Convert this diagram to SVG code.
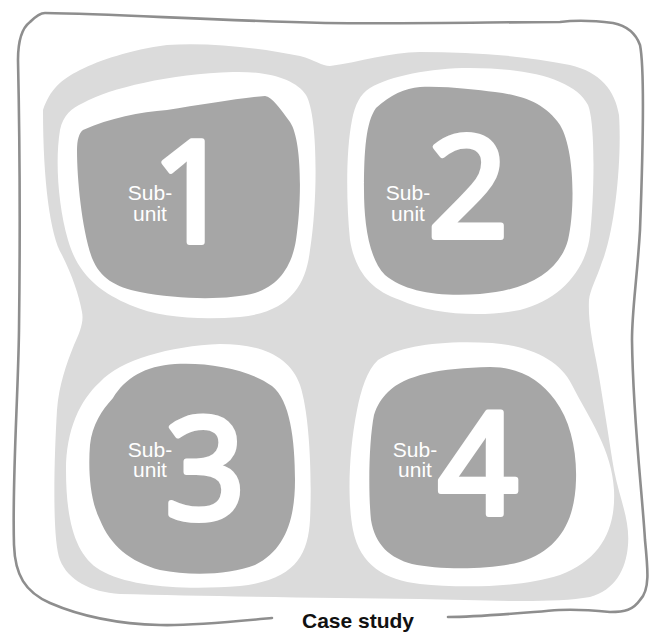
<svg xmlns="http://www.w3.org/2000/svg" width="652" height="633" viewBox="0 0 652 633">
<style>
.frame{fill:none;stroke:#8e8e8e;stroke-width:2.6;stroke-linecap:round;stroke-linejoin:round}
.area{fill:#dbdbdb}
.ring{fill:#ffffff}
.core{fill:#a6a6a6}
.num{font-family:"Noto Sans","Open Sans",sans-serif;font-size:140px;fill:#ffffff;stroke:#ffffff;stroke-width:6;stroke-linejoin:round}
.sub{font-family:"Liberation Sans",Arial,sans-serif;font-size:21px;fill:#ffffff;text-anchor:middle}
.cap{font-family:"Liberation Sans",Arial,sans-serif;font-size:21px;font-weight:bold;fill:#111111;text-anchor:middle}
</style>
<rect width="652" height="633" fill="#ffffff"/>
<g id="case-study">
<path class="area" d="M 43,110 C 50,90 60,80 80,70 C 100,60 130,50 167,45 C 210,42 260,48 300,56 C 315,60 322,66 330,66 C 360,62 390,52 420,52 C 470,52 520,55 570,65 C 600,72 615,90 619,115 C 622,160 615,230 602,262 C 596,280 590,290 589,300 C 588,320 592,340 596,360 C 600,380 606,420 614,470 C 620,500 630,520 628,545 C 626,570 615,590 590,597 C 550,604 480,600 420,599 C 320,598 200,596 120,594 C 90,592 68,580 60,560 C 52,540 54,460 57,410 C 59,385 66,365 74,345 C 80,332 84,322 82,312 C 79,295 72,275 62,255 C 50,235 43,180 43,110 Z"/>
<path class="frame" d="M 272,618 C 230,622 190,626 160,625 C 120,624 80,616 50,603 C 25,592 15,575 14,545 C 12,480 18,400 19,330 C 20,250 20,150 18,60 C 18,40 22,28 30,22 C 35,17 40,13 45,13 C 120,14 200,20 325,23 C 420,24 500,22 560,22 C 575,20 590,20 613,23 C 628,26 636,34 640,45 C 645,70 643,150 640,230 C 637,280 632,310 632,340 C 633,420 642,490 645,540 C 648,570 650,590 640,600 C 633,610 625,612 610,612 C 590,610 575,609 559,610 C 520,613 480,617 448,617"/>
<text class="cap" x="358" y="628">Case study</text>
</g>
<g id="subunit-1">
<path class="ring" d="M 83,103 C 110,88 170,74 233,72 C 270,71 296,80 306,95 C 318,115 318,200 310,250 C 306,285 290,312 240,317 C 200,320 160,318 130,305 C 100,292 78,275 68,240 C 58,205 55,160 60,130 C 63,115 72,108 83,103 Z"/>
<path class="core" d="M 83,130 C 110,118 140,112 167,110 C 200,105 240,98 265,96 C 272,97 280,108 290,122 C 302,140 302,200 296,240 C 292,265 280,285 255,293 C 230,300 180,300 140,292 C 115,287 100,278 92,258 C 82,230 77,180 77,150 C 77,140 79,133 83,130 Z"/>
<text class="num" x="152" y="242">1</text>
<text class="sub"><tspan x="150" y="200">Sub-</tspan><tspan x="150" y="221">unit</tspan></text>
</g>
<g id="subunit-2">
<path class="ring" d="M 370,88 C 390,76 430,68 470,68 C 530,68 575,80 588,105 C 596,125 594,200 590,235 C 586,270 560,300 520,310 C 480,318 430,314 400,300 C 370,290 355,270 350,240 C 346,200 346,150 352,120 C 355,105 360,94 370,88 Z"/>
<path class="core" d="M 376,108 C 390,95 405,88 420,87 C 450,86 475,90 495,92 C 520,95 545,102 560,125 C 575,150 575,210 568,240 C 560,270 530,290 480,294 C 440,297 405,292 385,275 C 368,258 364,220 364,190 C 364,150 366,122 376,108 Z"/>
<text class="num" x="428" y="237">2</text>
<text class="sub"><tspan x="408" y="200">Sub-</tspan><tspan x="408" y="221">unit</tspan></text>
</g>
<g id="subunit-3">
<path class="ring" d="M 100,382 C 120,360 170,346 220,344 C 260,344 290,356 300,385 C 310,415 312,480 310,520 C 308,555 295,580 240,586 C 190,590 130,588 100,570 C 75,555 66,520 66,470 C 66,430 80,400 100,382 Z"/>
<path class="core" d="M 113,398 C 125,378 145,366 175,364 C 210,362 250,370 272,386 C 290,400 295,440 295,480 C 295,520 285,550 255,565 C 230,575 190,576 160,570 C 130,562 110,545 100,520 C 90,500 88,470 90,445 C 92,425 102,410 113,398 Z"/>
<text class="num" x="165" y="519">3</text>
<text class="sub"><tspan x="150" y="457">Sub-</tspan><tspan x="150" y="477">unit</tspan></text>
</g>
<g id="subunit-4">
<path class="ring" d="M 378,360 C 400,346 440,340 492,343 C 530,346 560,360 572,385 C 590,420 612,450 614,490 C 616,530 600,560 560,575 C 520,588 460,588 420,584 C 385,580 360,565 353,530 C 347,500 349,450 357,410 C 361,390 367,370 378,360 Z"/>
<path class="core" d="M 388,392 C 405,375 440,368 490,367 C 520,367 540,380 555,400 C 570,420 577,450 576,480 C 575,520 560,550 520,562 C 490,570 440,570 412,564 C 390,558 375,545 371,520 C 368,490 369,440 374,415 C 377,405 382,398 388,392 Z"/>
<text class="num" x="438" y="514">4</text>
<text class="sub"><tspan x="415" y="457">Sub-</tspan><tspan x="415" y="477">unit</tspan></text>
</g>
<g id="connectors"></g>
</svg>
